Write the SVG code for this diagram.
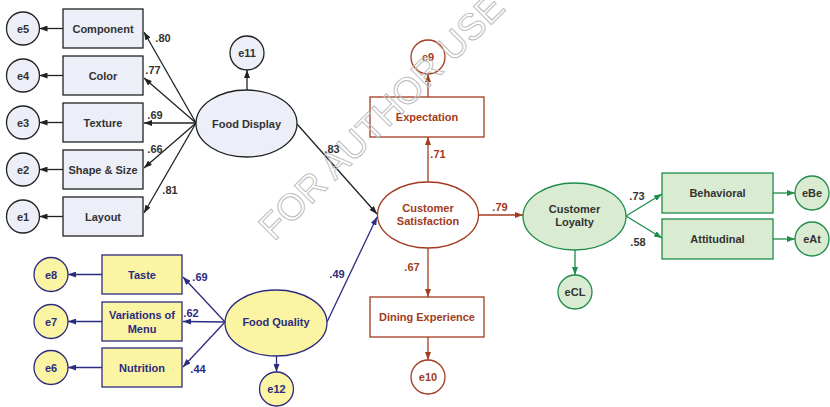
<svg xmlns="http://www.w3.org/2000/svg" width="830" height="407" viewBox="0 0 830 407">
<defs>
<style>
text{font-family:"Liberation Sans",Arial,sans-serif;font-weight:bold;font-size:11px;text-anchor:middle;dominant-baseline:central}
.k{stroke:#222;fill:#eceef8;stroke-width:1.3}
.kt{fill:#333}
.n{stroke:#2b2b80;fill:#fbf4a2;stroke-width:1.3}
.nt{fill:#2b2b80}
.b{stroke:#a33b20;fill:#fff;stroke-width:1.3}
.bt{fill:#a33b20}
.g{stroke:#1e8c4a;fill:#d9ebd1;stroke-width:1.3}
.gt{fill:#333}
.ck{stroke:#222;stroke-width:1.3;fill:none;marker-end:url(#ak)}
.cn{stroke:#2b2b80;stroke-width:1.3;fill:none;marker-end:url(#an)}
.cb{stroke:#a33b20;stroke-width:1.3;fill:none;marker-end:url(#ab)}
.cg{stroke:#1e8c4a;stroke-width:1.3;fill:none;marker-end:url(#ag)}
.wm{font-size:37px;font-weight:normal;fill:none;stroke:#bdbdbd;stroke-width:1;text-anchor:start;dominant-baseline:auto}
</style>
<marker id="ak" markerUnits="userSpaceOnUse" markerWidth="8" markerHeight="6" refX="8" refY="3" orient="auto"><path d="M0,0L8,3L0,6z" fill="#222"/></marker>
<marker id="an" markerUnits="userSpaceOnUse" markerWidth="8" markerHeight="6" refX="8" refY="3" orient="auto"><path d="M0,0L8,3L0,6z" fill="#2b2b80"/></marker>
<marker id="ab" markerUnits="userSpaceOnUse" markerWidth="8" markerHeight="6" refX="8" refY="3" orient="auto"><path d="M0,0L8,3L0,6z" fill="#a33b20"/></marker>
<marker id="ag" markerUnits="userSpaceOnUse" markerWidth="8" markerHeight="6" refX="8" refY="3" orient="auto"><path d="M0,0L8,3L0,6z" fill="#1e8c4a"/></marker>
</defs>
<rect width="830" height="407" fill="#fff"/>

<g id="connectors">
<line class="ck" x1="196" y1="123" x2="144" y2="32"/>
<line class="ck" x1="196" y1="123" x2="144" y2="78"/>
<line class="ck" x1="196" y1="123" x2="144" y2="123"/>
<line class="ck" x1="196" y1="123" x2="144" y2="168"/>
<line class="ck" x1="196" y1="123" x2="144" y2="213"/>
<line class="ck" x1="63" y1="28.5" x2="39.5" y2="28.5"/>
<line class="ck" x1="63" y1="75.5" x2="39.5" y2="75.5"/>
<line class="ck" x1="63" y1="122.5" x2="39.5" y2="122.5"/>
<line class="ck" x1="63" y1="169.5" x2="39.5" y2="169.5"/>
<line class="ck" x1="63" y1="216.5" x2="39.5" y2="216.5"/>
<line class="ck" x1="247" y1="90" x2="247" y2="70"/>
<line class="ck" x1="297" y1="124" x2="377" y2="214"/>
<line class="cn" x1="225" y1="322" x2="183" y2="277"/>
<line class="cn" x1="225" y1="322" x2="183" y2="321.5"/>
<line class="cn" x1="225" y1="322" x2="183" y2="367"/>
<line class="cn" x1="102" y1="274.5" x2="68" y2="274.5"/>
<line class="cn" x1="102" y1="321.5" x2="68" y2="321.5"/>
<line class="cn" x1="102" y1="367.5" x2="68" y2="367.5"/>
<line class="cn" x1="276.5" y1="356" x2="276.5" y2="372"/>
<line class="cn" x1="327" y1="322" x2="377" y2="217"/>
<line class="cb" x1="428" y1="182" x2="428" y2="137"/>
<line class="cb" x1="428" y1="97" x2="428" y2="74"/>
<line class="cb" x1="428" y1="248" x2="428" y2="297"/>
<line class="cb" x1="428" y1="337" x2="428" y2="360"/>
<line class="cb" x1="478.5" y1="215" x2="523" y2="215"/>
<line class="cg" x1="575" y1="250" x2="575" y2="275"/>
<line class="cg" x1="626" y1="216" x2="662" y2="194"/>
<line class="cg" x1="626" y1="216" x2="662" y2="238"/>
<line class="cg" x1="773" y1="193" x2="795" y2="193"/>
<line class="cg" x1="773" y1="239" x2="795" y2="239"/>
</g>

<g id="labels">
<text class="kt" x="163" y="38">.80</text>
<text class="kt" x="153" y="70">.77</text>
<text class="kt" x="155" y="115">.69</text>
<text class="kt" x="155" y="149">.66</text>
<text class="kt" x="170" y="190">.81</text>
<text class="kt" x="332" y="149">.83</text>
<text class="nt" x="200" y="277">.69</text>
<text class="nt" x="191" y="313">.62</text>
<text class="nt" x="198" y="369">.44</text>
<text class="nt" x="337" y="274">.49</text>
<text class="bt" x="438" y="154">.71</text>
<text class="bt" x="412" y="267">.67</text>
<text class="bt" x="500" y="207">.79</text>
<text class="gt" x="637" y="196">.73</text>
<text class="gt" x="638" y="242">.58</text>
</g>

<g id="component"><rect class="k" x="63" y="9" width="80" height="39"/><text class="kt" x="103" y="28.5">Component</text></g>
<g id="color"><rect class="k" x="63" y="56" width="80" height="39"/><text class="kt" x="103" y="75.5">Color</text></g>
<g id="texture"><rect class="k" x="63" y="103" width="80" height="39"/><text class="kt" x="103" y="122.5">Texture</text></g>
<g id="shape"><rect class="k" x="63" y="150" width="80" height="39"/><text class="kt" x="103" y="169.5">Shape &amp; Size</text></g>
<g id="layout"><rect class="k" x="63" y="197" width="80" height="39"/><text class="kt" x="103" y="216.5">Layout</text></g>
<g id="e5"><circle class="k" cx="23" cy="28.5" r="16.5"/><text class="kt" x="23" y="28.5">e5</text></g>
<g id="e4"><circle class="k" cx="23" cy="75.5" r="16.5"/><text class="kt" x="23" y="75.5">e4</text></g>
<g id="e3"><circle class="k" cx="23" cy="122.5" r="16.5"/><text class="kt" x="23" y="122.5">e3</text></g>
<g id="e2"><circle class="k" cx="23" cy="169.5" r="16.5"/><text class="kt" x="23" y="169.5">e2</text></g>
<g id="e1"><circle class="k" cx="23" cy="216.5" r="16.5"/><text class="kt" x="23" y="216.5">e1</text></g>
<g id="food-display"><ellipse class="k" cx="246.5" cy="123.5" rx="50.5" ry="33.5"/><text class="kt" x="246.5" y="123.5">Food Display</text></g>
<g id="e11"><circle class="k" cx="247" cy="53" r="17"/><text class="kt" x="247" y="53">e11</text></g>

<g id="taste"><rect class="n" x="102" y="255" width="80" height="39"/><text class="nt" x="142" y="274.5">Taste</text></g>
<g id="variations"><rect class="n" x="102" y="302" width="80" height="39"/><text class="nt" x="142" y="315">Variations of</text><text class="nt" x="142" y="328.5">Menu</text></g>
<g id="nutrition"><rect class="n" x="102" y="348" width="80" height="39"/><text class="nt" x="142" y="367.5">Nutrition</text></g>
<g id="e8"><circle class="n" cx="51" cy="274.5" r="17"/><text class="nt" x="51" y="274.5">e8</text></g>
<g id="e7"><circle class="n" cx="51" cy="321.5" r="17"/><text class="nt" x="51" y="321.5">e7</text></g>
<g id="e6"><circle class="n" cx="51" cy="367.5" r="17"/><text class="nt" x="51" y="367.5">e6</text></g>
<g id="food-quality"><ellipse class="n" cx="276" cy="323" rx="51" ry="33"/><text class="nt" x="276" y="321.5">Food Quality</text></g>
<g id="e12"><circle class="n" cx="276.5" cy="389" r="17"/><text class="nt" x="276.5" y="389">e12</text></g>

<g id="customer-satisfaction"><ellipse class="b" cx="428" cy="215" rx="50.5" ry="33"/><text class="bt" x="428" y="208">Customer</text><text class="bt" x="428" y="221">Satisfaction</text></g>
<g id="expectation"><rect class="b" x="370" y="97" width="114" height="40"/><text class="bt" x="427" y="117">Expectation</text></g>
<g id="e9"><circle class="b" cx="428" cy="57" r="17"/><text class="bt" x="428" y="57">e9</text></g>
<g id="dining-experience"><rect class="b" x="370" y="297" width="114" height="40"/><text class="bt" x="427" y="317">Dining Experience</text></g>
<g id="e10"><circle class="b" cx="428" cy="377" r="17"/><text class="bt" x="428" y="377">e10</text></g>

<g id="customer-loyalty"><ellipse class="g" cx="574.5" cy="216.5" rx="51.5" ry="33.5"/><text class="gt" x="574.5" y="209">Customer</text><text class="gt" x="574.5" y="222">Loyalty</text></g>
<g id="eCL"><circle class="g" cx="575" cy="292" r="17"/><text class="gt" x="575" y="292">eCL</text></g>
<g id="behavioral"><rect class="g" x="662" y="173" width="111" height="40"/><text class="gt" x="717.5" y="193">Behavioral</text></g>
<g id="attitudinal"><rect class="g" x="662" y="219" width="111" height="40"/><text class="gt" x="717.5" y="239">Attitudinal</text></g>
<g id="eBe"><circle class="g" cx="812" cy="193" r="17"/><text class="gt" x="812" y="193">eBe</text></g>
<g id="eAt"><circle class="g" cx="812" cy="239" r="17"/><text class="gt" x="812" y="239">eAt</text></g>

<text class="wm" transform="translate(274,242) rotate(-45)">FOR AUTHOR USE ONLY</text>
</svg>
